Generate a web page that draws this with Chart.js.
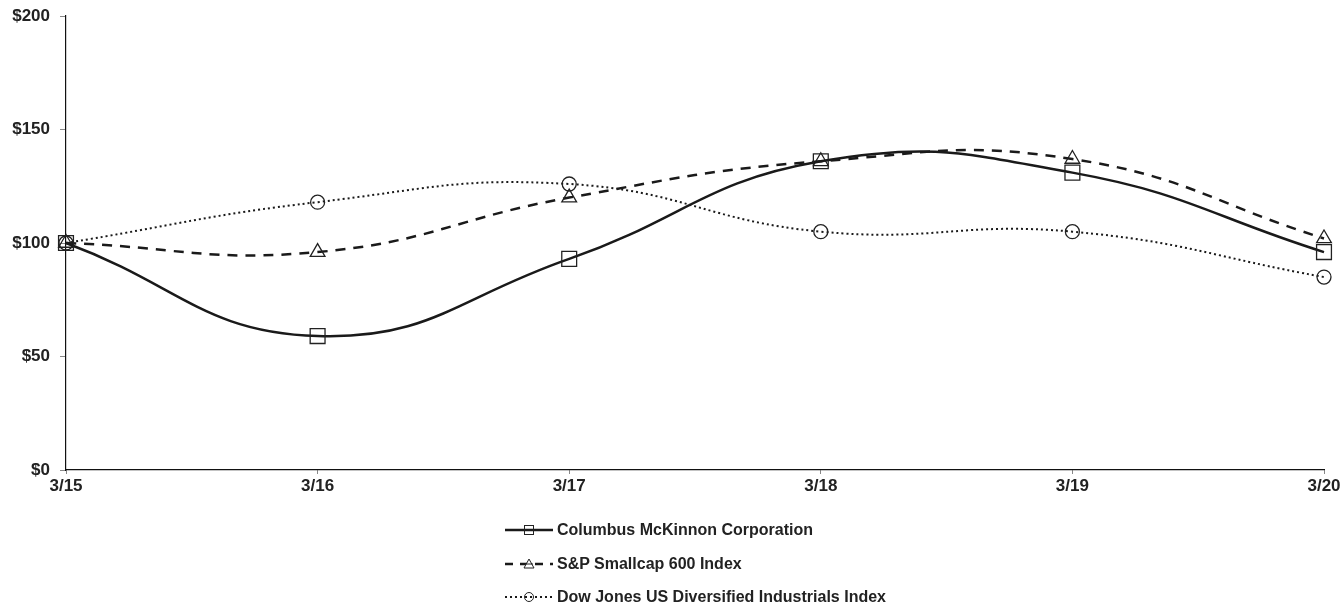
<!DOCTYPE html>
<html>
<head>
<meta charset="utf-8">
<script src="https://cdn.jsdelivr.net/npm/chart.js@4/dist/chart.umd.min.js"></script>
<style>
  html, body { margin: 0; padding: 0; background: #fff; }
  #wrap { position: relative; width: 1344px; height: 605px; }
  #c { position: absolute; left: 0; top: 0; }
  #legend { position: absolute; left: 505px; top: 519px; font-family: "Liberation Sans", Arial, sans-serif; font-weight: bold; font-size: 16px; color: #222; }
  .row { height: 33.5px; display: flex; align-items: flex-start; }
  .row svg { margin-right: 2px; flex: none; }
  .row span { line-height: 22px; white-space: nowrap; }
</style>
</head>
<body>
<div id="wrap">
  <canvas id="c" width="1344" height="605"></canvas>
  <div id="legend"></div>
</div>
<script>
const categories = ["3/15", "3/16", "3/17", "3/18", "3/19", "3/20"];
const columbus = [100, 59, 93, 136, 131, 96];
const smallcap = [100, 96, 120, 136, 137, 102];
const dowjones = [100, 118, 126, 105, 105, 85];
const seriesNames = ["Columbus McKinnon Corporation", "S&P Smallcap 600 Index", "Dow Jones US Diversified Industrials Index"];
const yTicks = [0, 50, 100, 150, 200];

const FONT = { family: "'Liberation Sans', Arial, sans-serif", size: 17, weight: 'bold' };

const datasets = [
  { label: seriesNames[0], data: columbus, borderColor: '#1a1a1a', borderWidth: 2.5, borderDash: [],
    pointStyle: 'rect', pointRadius: 10.5, pointBorderWidth: 1.3, pointBorderColor: '#222', pointBackgroundColor: 'rgba(0,0,0,0)' },
  { label: seriesNames[1], data: smallcap, borderColor: '#1a1a1a', borderWidth: 2.5, borderDash: [10, 8],
    pointStyle: 'triangle', pointRadius: 8.5, pointBorderWidth: 1.3, pointBorderColor: '#222', pointBackgroundColor: 'rgba(0,0,0,0)' },
  { label: seriesNames[2], data: dowjones, borderColor: '#1a1a1a', borderWidth: 2, borderDash: [2, 3],
    pointStyle: 'circle', pointRadius: 7, pointBorderWidth: 1.3, pointBorderColor: '#222', pointBackgroundColor: 'rgba(0,0,0,0)' }
];
datasets.forEach(d => { d.tension = 0.45; d.fill = false; d.pointHoverRadius = d.pointRadius; });

new Chart(document.getElementById('c'), {
  type: 'line',
  data: { labels: categories, datasets: datasets },
  options: {
    responsive: false,
    animation: false,
    layout: { padding: { top: 16, right: 20, left: 0, bottom: 0 } },
    plugins: { legend: { display: false }, tooltip: { enabled: false } },
    scales: {
      x: {
        offset: false,
        grid: { display: true, drawOnChartArea: false, drawTicks: true, tickLength: 4, color: '#888' },
        border: { color: '#111', width: 1.2 },
        ticks: { font: FONT, color: '#222', padding: 2, maxRotation: 0, autoSkip: false },
        afterFit: s => { s.height = 135; s.paddingLeft = 0; s.paddingRight = 0; }
      },
      y: {
        min: 0, max: 200,
        afterBuildTicks: s => { s.ticks = yTicks.map(v => ({ value: v })); },
        grid: { display: true, drawOnChartArea: false, drawTicks: true, tickLength: 6, color: '#888' },
        border: { color: '#111', width: 1.2 },
        ticks: { font: FONT, color: '#222', padding: 10, callback: v => '$' + v },
        afterFit: s => { s.width = 66; s.paddingTop = 0; s.paddingBottom = 0; }
      }
    }
  }
});

// legend
const legendSvgs = [
  '<svg width="50" height="22"><line x1="0" y1="11" x2="48" y2="11" stroke="#1a1a1a" stroke-width="2.5"/><rect x="19.5" y="6.5" width="9" height="9" fill="none" stroke="#222" stroke-width="1"/></svg>',
  '<svg width="50" height="22"><line x1="0" y1="11" x2="48" y2="11" stroke="#1a1a1a" stroke-width="2.5" stroke-dasharray="8,7"/><polygon points="24,6 29,15 19,15" fill="#fff" stroke="#222" stroke-width="1"/><line x1="20" y1="11" x2="28" y2="11" stroke="#222" stroke-width="1"/></svg>',
  '<svg width="50" height="22"><line x1="0" y1="11" x2="48" y2="11" stroke="#1a1a1a" stroke-width="2" stroke-dasharray="2,3"/><circle cx="24" cy="11" r="4.5" fill="none" stroke="#222" stroke-width="1"/></svg>'
];
const lg = document.getElementById('legend');
seriesNames.forEach((n, i) => {
  const r = document.createElement('div');
  r.className = 'row';
  r.innerHTML = legendSvgs[i] + '<span></span>';
  r.querySelector('span').textContent = n;
  lg.appendChild(r);
});
</script>
</body>
</html>
